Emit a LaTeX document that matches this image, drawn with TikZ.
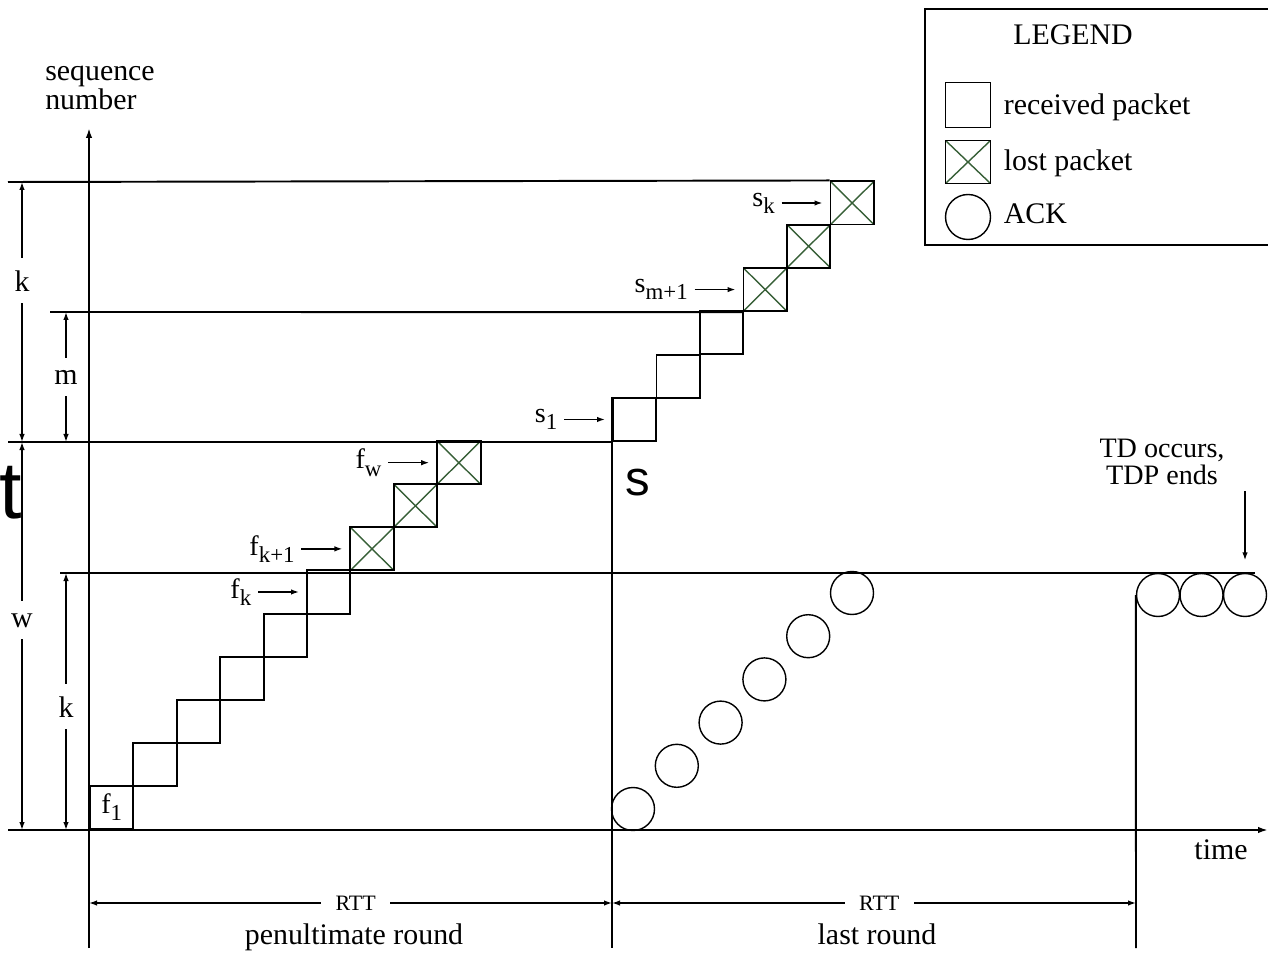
\documentclass[tikz,border=0pt]{standalone}
\usepackage{fontspec}
\setmainfont{Liberation Serif}
\newfontfamily\bigsans{Liberation Sans}
\usetikzlibrary{arrows.meta,positioning}
\definecolor{crossgreen}{RGB}{55,95,55}
\newcommand{\pktname}[2]{#1\raisebox{-0.55ex}{\fontsize{13}{13}\selectfont #2}}

\begin{document}
\begin{tikzpicture}[x=0.2mm, y=-0.2mm, line width=1.1pt,
  every node/.style={font=\fontsize{17}{20}\selectfont},
  pkt/.style={draw, rectangle, anchor=south west, minimum width=8.68mm,
    minimum height=8.62mm, inner sep=0pt},
  lost/.style={pkt, path picture={
    \draw[crossgreen, line width=0.8pt]
      (path picture bounding box.north west) -- (path picture bounding box.south east)
      (path picture bounding box.north east) -- (path picture bounding box.south west);}},
  ack/.style={draw, circle, minimum size=8.6mm, inner sep=0pt, line width=0.8pt},
  dim/.style={line width=0.8pt, {Latex[length=1.6mm,width=1.1mm]}-{Latex[length=1.6mm,width=1.1mm]}},
  dimlabel/.style={fill=white, inner xsep=1pt, inner ysep=2.4mm},
  ptr/.style={line width=0.8pt, -{Latex[length=1.6mm,width=1.1mm]}, shorten >=1.4mm},
  pktlabel/.style={font=\fontsize{16}{16}\selectfont, node distance=9.6mm}]

  \useasboundingbox (0,0) rectangle (1268,953);

  % packets of the penultimate round
  \foreach \i in {1,...,6}
    \node[pkt] (f\i) at ({89+43.4*(\i-1)},{830-43.1*(\i-1)}) {};
  \foreach \i in {7,8,9}
    \node[lost] (f\i) at ({89+43.4*(\i-1)},{830-43.1*(\i-1)}) {};

  % packets of the last round
  \foreach \i in {1,2,3}
    \node[pkt] (s\i) at ({612+43.5*(\i-1)},{442-43.3*(\i-1)}) {};
  \foreach \i in {4,5,6}
    \node[lost] (s\i) at ({612+43.5*(\i-1)},{442-43.3*(\i-1)}) {};

  % acks
  \foreach \i in {1,...,6}
    \node[ack] (a\i) at ({633+43.8*(\i-1)},{809-43.2*(\i-1)}) {};
  \foreach \i in {1,2,3}
    \node[ack] (b\i) at ({1158+43.5*(\i-1)},595) {};

  % axes and levels
  \draw[-{Latex[length=2mm,width=1.3mm]}] (89,948) -- (89,128);
  \draw[-{Latex[length=2mm,width=1.3mm]}] (8,830) -- (1268,830);
  \draw (8,182) -- (s6.north west);
  \draw (50,312) -- (s4.south west);
  \draw (8,442) -- (s1.south west);
  \draw (60,573) -- (1255,573);
  \draw (s1.north west) -- (612,948);
  \draw (b1.west) -- (1136,948);

  \node[align=left, font=\fontsize{17}{15}\selectfont] (ylab) at (100,88) {sequence\\number};
  \node (tlab) at (1221,850) {time};

  % sizes on the left
  \draw[dim] (22,182) -- (22,442) node[dimlabel, pos=0.38] (dk) {k};
  \draw[dim] (22,442) -- (22,830) node[dimlabel, pos=0.46] (dw) {w};
  \draw[dim] (66,312) -- (66,442) node[dimlabel, pos=0.5] (dm) {m};
  \draw[dim] (66,573) -- (66,830) node[dimlabel, pos=0.52] (dk2) {k};

  % packet names
  \node[font=\fontsize{16}{16}\selectfont] (lf1) at (f1.center) {\pktname{f}{1}};
  \node[pktlabel, left=of f6] (lfk) {\pktname{f}{k}};
  \node[pktlabel, left=of f7] (lfk1) {\pktname{f}{k+1}};
  \node[pktlabel, left=of f9] (lfw) {\pktname{f}{w}};
  \node[pktlabel, left=of s1] (ls1) {\pktname{s}{1}};
  \node[pktlabel, left=of s4] (lsm1) {\pktname{s}{m+1}};
  \node[pktlabel, left=of s6] (lsk) {\pktname{s}{k}};
  \draw[ptr] (lfk) -- (f6);
  \draw[ptr] (lfk1) -- (f7);
  \draw[ptr] (lfw) -- (f9);
  \draw[ptr] (ls1) -- (s1);
  \draw[ptr] (lsm1) -- (s4);
  \draw[ptr] (lsk) -- (s6);

  \node[font=\bigsans\fontsize{46}{46}\selectfont, anchor=base west, inner sep=0pt] (bigt) at (-1,518) {t};
  \node[font=\bigsans\fontsize{28}{28}\selectfont, anchor=base, inner sep=0pt] (bigs) at (638,495) {s};

  \node[align=center, font=\fontsize{16}{15}\selectfont] (td) at (1162,462) {TD occurs,\\TDP ends};
  \draw[ptr, shorten >=2.5mm] (b3.north |- td.south) -- (b3.north);

  % rounds
  \draw[dim] (89,903) -- (612,903) node[dimlabel, pos=0.51, inner xsep=2.9mm, font=\fontsize{12.5}{13}\selectfont] (rtt1) {RTT};
  \draw[dim] (612,903) -- (1136,903) node[dimlabel, pos=0.51, inner xsep=2.9mm, font=\fontsize{12.5}{13}\selectfont] (rtt2) {RTT};
  \node[anchor=base] (pen) at (354,944) {penultimate round};
  \node[anchor=base] (last) at (877,944) {last round};

  % legend
  \draw (925,9) rectangle (1275,245);
  \node (lgtitle) at (1073,35) {LEGEND};
  \node[pkt, anchor=center, minimum width=9mm, minimum height=9mm] (lgrec) at (968,105) {};
  \node[lost, anchor=center, minimum width=9mm, minimum height=8.6mm] (lglost) at (968,162) {};
  \node[ack, minimum size=9mm] (lgack) at (968,217) {};
  \node[anchor=west] (lgrectext) at (997,107) {received packet};
  \node[anchor=west] (lglosttext) at (997,163) {lost packet};
  \node[anchor=west] (lgacktext) at (997,214) {ACK};
\end{tikzpicture}
\end{document}
